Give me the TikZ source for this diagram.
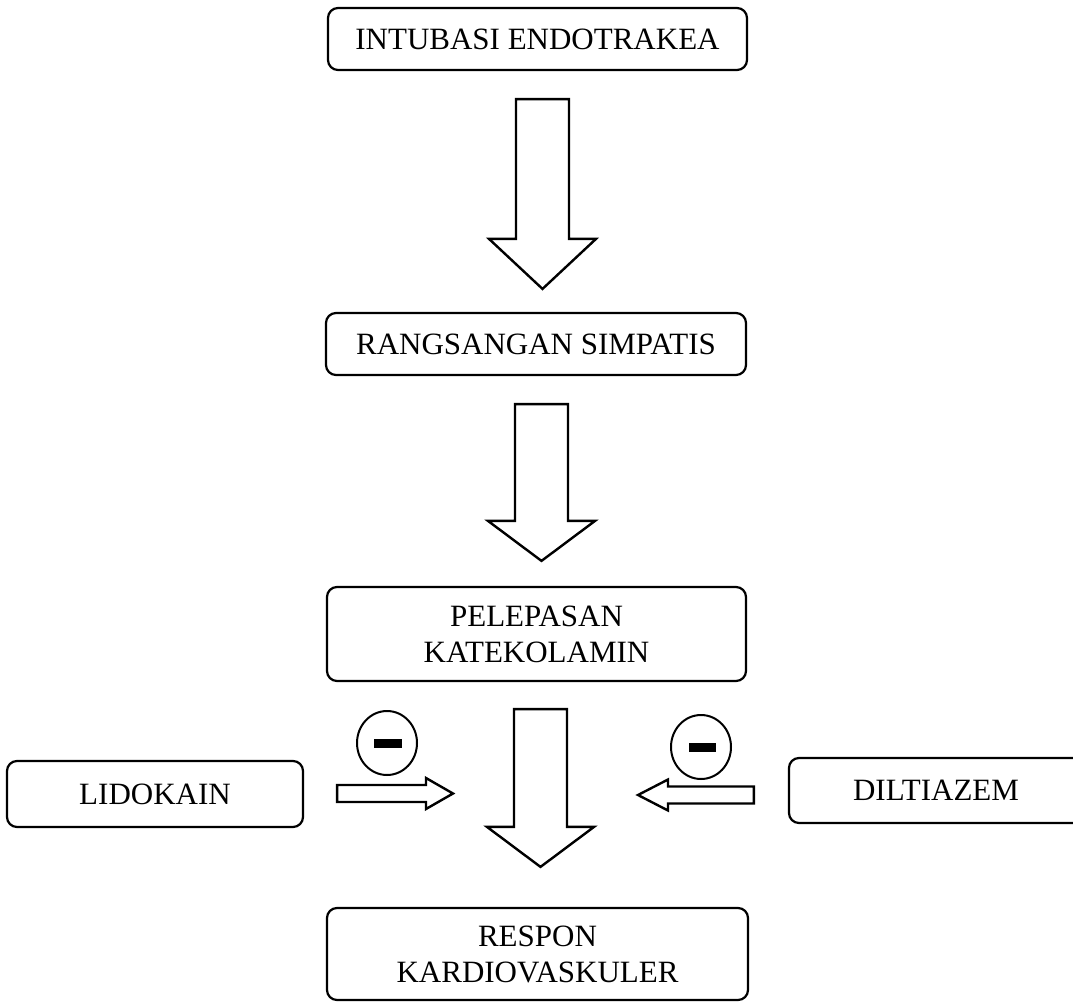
\documentclass[tikz,border=0pt]{standalone}
\usepackage{fontspec}
\setmainfont{Liberation Serif}
\usetikzlibrary{calc,shapes.geometric}

% vertical block arrow: #1 start of shaft, #2 tip, #3 head length
\newcommand{\blockdown}[3]{%
  \draw[blk] let \p1=(#1), \p2=(#2) in
    (\x1-26.5pt,\y1) -- (\x1+26.5pt,\y1) -- (\x1+26.5pt,\y2+#3) --
    (\x1+53.5pt,\y2+#3) -- (\x1,\y2) -- (\x1-53.5pt,\y2+#3) --
    (\x1-26.5pt,\y2+#3) -- cycle;}
% horizontal block arrow: #1 tail, #2 tip, #3 signed head length
\newcommand{\blockside}[3]{%
  \draw[blk] let \p1=(#1), \p2=(#2) in
    (\x1,\y1+8.5pt) -- (\x2-#3,\y1+8.5pt) -- (\x2-#3,\y1+15.5pt) --
    (\x2,\y1) -- (\x2-#3,\y1-15.5pt) -- (\x2-#3,\y1-8.5pt) --
    (\x1,\y1-8.5pt) -- cycle;}

\begin{document}
\begin{tikzpicture}[x=1pt,y=-1pt,
  box/.style={draw, line width=2.2pt, rounded corners=10pt, align=center,
    inner sep=0pt, font=\fontsize{31}{36}\selectfont},
  blk/.style={draw, line width=2.4pt, fill=white, line join=miter},
  inhib/.style={draw, line width=2pt, ellipse, inner sep=0pt,
    minimum width=60pt, minimum height=64pt}]
  \useasboundingbox (0,0) rectangle (1073,1003);

  % main chain
  \node[box, minimum width=419pt, minimum height=62pt] (intub) at (537.5,39) {INTUBASI ENDOTRAKEA};
  \node[box, minimum width=420pt, minimum height=62pt] (rang) at (536,344) {RANGSANGAN SIMPATIS};
  \node[box, minimum width=419pt, minimum height=94pt] (katek) at (536.5,634) {PELEPASAN\\KATEKOLAMIN};
  \node[box, minimum width=421pt, minimum height=92pt] (respon) at (537.5,954) {RESPON\\KARDIOVASKULER};

  % drugs
  \node[box, minimum width=296pt, minimum height=66pt] (lido) at (155,794) {LIDOKAIN};
  \node[box, minimum width=294pt, minimum height=65pt] (dilt) at (936,790.5) {DILTIAZEM};

  % arrow end points
  \coordinate (a1s) at ($(intub.south)+(5,28)$);
  \coordinate (a1e) at ($(rang.north)+(6.5,-23)$);
  \coordinate (a2s) at ($(rang.south)+(5.5,28)$);
  \coordinate (a2e) at ($(katek.north)+(5,-25)$);
  \coordinate (a3s) at ($(katek.south)+(4,27)$);
  \coordinate (a3e) at ($(respon.north)+(3,-40)$);
  \coordinate (ls) at ($(lido.east)+(33,-0.5)$);
  \coordinate (le) at (453,793.5);
  \coordinate (rs) at ($(dilt.west)+(-34,4.5)$);
  \coordinate (re) at (638,795);

  \blockdown{a1s}{a1e}{50pt}
  \blockdown{a2s}{a2e}{40pt}
  \blockdown{a3s}{a3e}{40pt}
  \blockside{ls}{le}{27pt}
  \blockside{rs}{re}{-30pt}

  % inhibition marks
  \node[inhib] (inl) at (387,743) {};
  \node[inhib] (inr) at (701,747) {};
  \fill ($(inl.center)+(-13,-4.5)$) rectangle ($(inl.center)+(15,4.5)$);
  \fill ($(inr.center)+(-12,-4.5)$) rectangle ($(inr.center)+(15,4.5)$);
\end{tikzpicture}
\end{document}
